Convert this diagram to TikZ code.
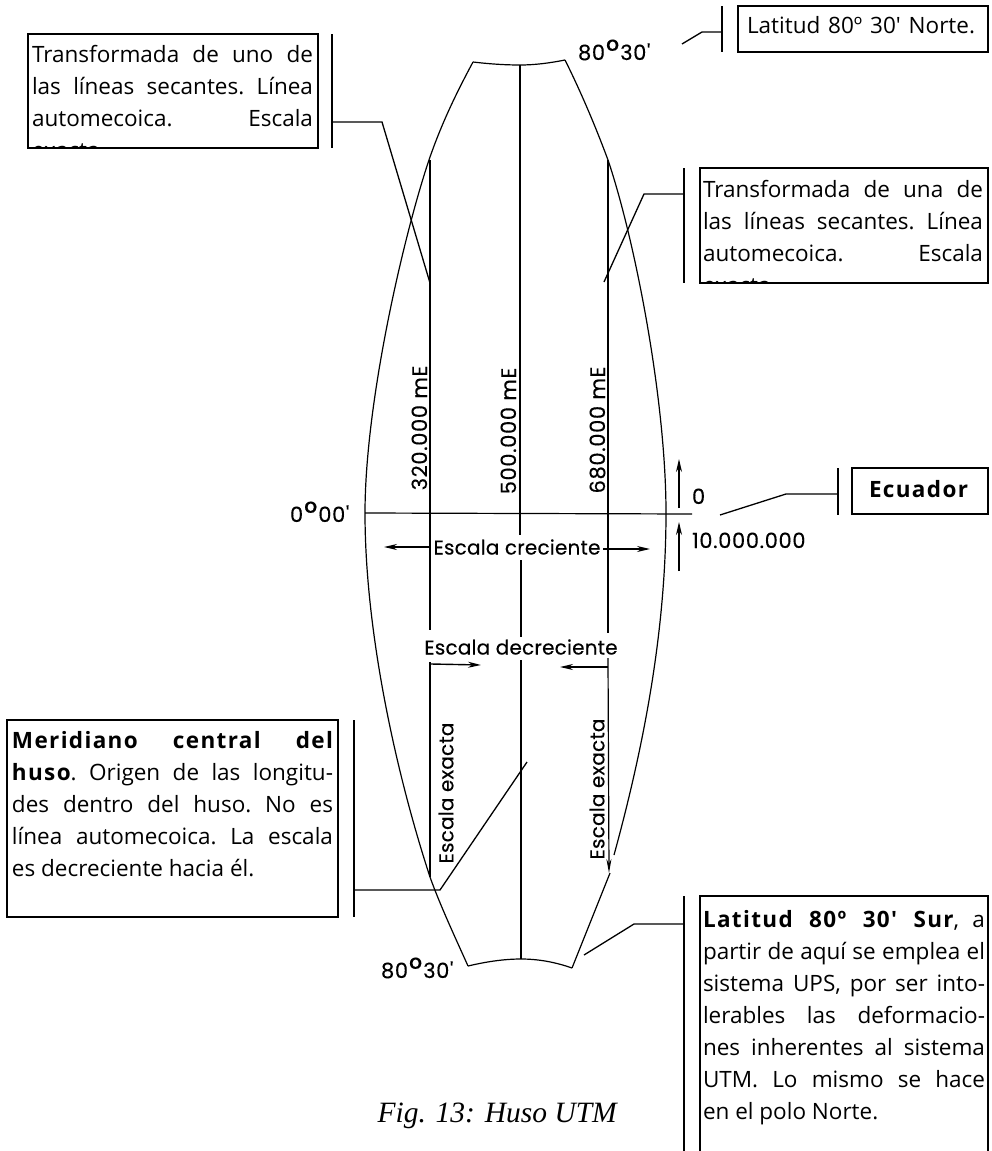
\documentclass[tikz,border=0pt]{standalone}
\usepackage{fontspec}
\usetikzlibrary{arrows.meta}
\setmainfont{Open Sans}
\newfontfamily\bodyf{Open Sans}
\newfontfamily\boldf{Open Sans}[LetterSpace=6]
\newfontfamily\cadf{Poppins}[LetterSpace=1,FakeBold=0.3]
\newfontfamily\numf{Poppins}[LetterSpace=3,FakeBold=0.3]
\newfontfamily\capf{Liberation Serif}
\newcommand{\linesW}[2]{\vtop{\hsize=#1\baselineskip=32pt\lineskiplimit=-100pt\fontsize{22.5}{32}\bodyf\frenchspacing #2}}
\newcommand{\just}[1]{\hbox to\hsize{#1}}
\newcommand{\plain}[1]{\hbox{#1}}
\newcommand{\bld}[1]{{\boldf\bfseries #1}}
\newcommand{\bigdeg}{\kern1pt{\fontsize{32}{32}\selectfont\raisebox{-2pt}{°}}\kern1pt}
\tikzset{
  x=1pt,y=-1pt,
  boxn/.style={draw,line width=1.5pt,inner sep=0pt,outer sep=0pt,anchor=north west},
  txt/.style={inner sep=0pt,outer sep=0pt,anchor=base west},
  bar/.style={line width=1.5pt},
  lead/.style={line width=1.3pt},
  geo/.style={line width=1.2pt},
  mer/.style={line width=1.2pt},
  cad/.style={inner sep=0pt,outer sep=0pt,font=\fontsize{20}{20}\cadf},
  num/.style={inner sep=0pt,outer sep=0pt,font=\fontsize{21}{21}\numf},
  arr/.style={line width=1.4pt,-{Stealth[length=13pt,width=6pt]}},
}
\begin{document}
\begin{tikzpicture}
\useasboundingbox (0,0) rectangle (991,1151);
% boxes
\node[boxn,minimum width=290pt,minimum height=114pt] (b1) at (28,34) {};
\node[boxn,minimum width=250pt,minimum height=46pt] (b2) at (738,6) {};
\node[boxn,minimum width=288pt,minimum height=115pt] (b3) at (700,168) {};
\node[boxn,minimum width=136pt,minimum height=46pt] (b4) at (852,468) {};
\node[boxn,minimum width=331pt,minimum height=197pt] (b5) at (7,720) {};
\coordinate (b6a) at (700,1151);
\coordinate (b6b) at (700,896);
\coordinate (b6c) at (988,896);
\coordinate (b6d) at (988,1151);
\draw[bar] (b6a) -- (b6b) -- (b6c) -- (b6d);
% box texts
\begin{scope}
\clip (b1.north west) rectangle (b1.south east);
\node[txt] (t1) at (32,62) {\linesW{281pt}{\just{Transformada de uno de}\just{las líneas secantes. Línea}\just{automecoica. Escala}\plain{exacta.}}};
\end{scope}
\begin{scope}
\clip (b3.north west) rectangle (b3.south east);
\node[txt] (t3) at (703,197) {\linesW{280pt}{\just{Transformada de una de}\just{las líneas secantes. Línea}\just{automecoica. Escala}\plain{exacta.}}};
\end{scope}
\node[txt] (t2) at (747,33) {\linesW{228pt}{\just{Latitud 80º 30′ Norte.}}};
\node[txt] (t4) at (869,497) {\linesW{100pt}{\hbox{\bld{Ecuador}}}};
\node[txt] (t5) at (12,748) {\linesW{321pt}{\just{\bld{Meridiano central del}}\just{\bld{huso}. Origen de las longitu-}\just{des dentro del huso. No es}\just{línea automecoica. La escala}\plain{es decreciente hacia él.}}};
\node[txt] (t6) at (703,927) {\linesW{282pt}{\just{\bld{Latitud 80º 30′ Sur}, a}\just{partir de aquí se emplea el}\just{sistema UPS, por ser into-}\just{lerables las deformacio-}\just{nes inherentes al sistema}\just{UTM. Lo mismo se hace}\plain{en el polo Norte.}}};
% bars
\coordinate (s1a) at (332,34); \coordinate (s1b) at (332,148);
\coordinate (s2a) at (722,6); \coordinate (s2b) at (722,52);
\coordinate (s3a) at (684,168); \coordinate (s3b) at (684,283);
\coordinate (s4a) at (838,468); \coordinate (s4b) at (838,515);
\coordinate (s5a) at (354,720); \coordinate (s5b) at (354,917);
\coordinate (s6a) at (684,896); \coordinate (s6b) at (684,1151);
\foreach \k in {1,...,6} {\draw[bar] (s\k a) -- (s\k b);}
% leaders
\coordinate (l1a) at (332,122); \coordinate (l1b) at (382,122); \coordinate (l1c) at (430,283);
\coordinate (l2a) at (722,32); \coordinate (l2b) at (702,32); \coordinate (l2c) at (682,44);
\coordinate (l3a) at (684,194); \coordinate (l3b) at (644,194); \coordinate (l3c) at (604,282);
\coordinate (l4a) at (838,494); \coordinate (l4b) at (786,494); \coordinate (l4c) at (720,515);
\coordinate (l5a) at (354,890); \coordinate (l5b) at (440,890); \coordinate (l5c) at (527,762);
\coordinate (l6a) at (684,924); \coordinate (l6b) at (634,924); \coordinate (l6c) at (584,955);
\foreach \k in {1,...,6} {\draw[lead] (l\k a) -- (l\k b) -- (l\k c);}
% spindle outline
\draw[geo] (473,62) .. controls (458,90) and (443,120) .. (430,157)
  .. controls (405,230) and (365,400) .. (365,513)
  .. controls (365,630) and (395,770) .. (430,877)
  .. controls (440,905) and (455,937) .. (468,966);
\draw[geo] (565,60) .. controls (580,90) and (595,125) .. (608,160)
  .. controls (635,240) and (666,400) .. (666,513)
  .. controls (666,640) and (640,760) .. (614,855);
\draw[geo] (610,873) -- (572,968);
\draw[geo] (473,62) .. controls (490,64) and (505,65) .. (520,65) .. controls (535,65) and (550,63) .. (565,60);
\draw[geo] (468,966) .. controls (485,962) and (503,959) .. (521,959) .. controls (538,959) and (555,962) .. (572,968);
% meridians
\coordinate (m1a) at (430,160); \coordinate (m1b) at (430,630); \coordinate (m1c) at (430,662); \coordinate (m1d) at (430,877);
\coordinate (m2a) at (520,65); \coordinate (m2b) at (520,535); \coordinate (m2c) at (521,560); \coordinate (m2d) at (521,637); \coordinate (m2e) at (521,660); \coordinate (m2f) at (521,959);
\coordinate (m3a) at (608,160); \coordinate (m3b) at (608,633); \coordinate (m3c) at (608,658); \coordinate (m3d) at (609,873);
\draw[mer] (m1a) -- (m1b) (m1c) -- (m1d);
\draw[mer] (m2a) -- (m2b) (m2c) -- (m2d) (m2e) -- (m2f);
\draw[mer] (m3a) -- (m3b);
\draw[mer,-{Stealth[length=14pt,width=5pt]}] (m3c) -- (m3d);
% equator
\coordinate (e1) at (365,513); \coordinate (e2) at (692,514);
\draw[mer] (e1) -- (e2);
% dimension arrows
\coordinate (a1a) at (679,508); \coordinate (a1b) at (679,459);
\coordinate (a2a) at (679,571); \coordinate (a2b) at (679,522);
\draw[arr] (a1a) -- (a1b);
\draw[arr] (a2a) -- (a2b);
\coordinate (a3a) at (430,547); \coordinate (a3b) at (384,547);
\coordinate (a4a) at (603,549); \coordinate (a4b) at (650,549);
\coordinate (a5a) at (431,664); \coordinate (a5b) at (481,665);
\coordinate (a6a) at (608,667); \coordinate (a6b) at (560,667);
\foreach \k in {3,...,6} {\draw[arr] (a\k a) -- (a\k b);}
% labels
\node[num,anchor=base west] (n1) at (578,60) {80\bigdeg 30'};
\node[num,anchor=base west] (n2) at (290,522) {0\bigdeg 00'};
\node[num,anchor=base west] (n3) at (381,978) {80\bigdeg 30'};
\node[num,anchor=base west] (n4) at (692,504) {0};
\node[num,anchor=base west] (n5) at (692,548) {10.000.000};
\node[num,anchor=base,rotate=90] (n6) at (427,428) {320.000 mE};
\node[num,anchor=base,rotate=90] (n7) at (516,431) {500.000 mE};
\node[num,anchor=base,rotate=90] (n8) at (605,430) {680.000 mE};
\node[cad,anchor=center] (n9) at (517,547) {Escala creciente};
\node[cad,anchor=center] (n10) at (521,647) {Escala decreciente};
\node[cad,anchor=center,rotate=90] (n11) at (446,793) {Escala exacta};
\node[cad,anchor=center,rotate=90] (n12) at (597,789) {Escala exacta};
\node[inner sep=0pt,anchor=base east] (cap) at (617,1122) {\fontsize{29.5}{29.5}\capf\itshape Fig. 13: Huso UTM};
\end{tikzpicture}
\end{document}
